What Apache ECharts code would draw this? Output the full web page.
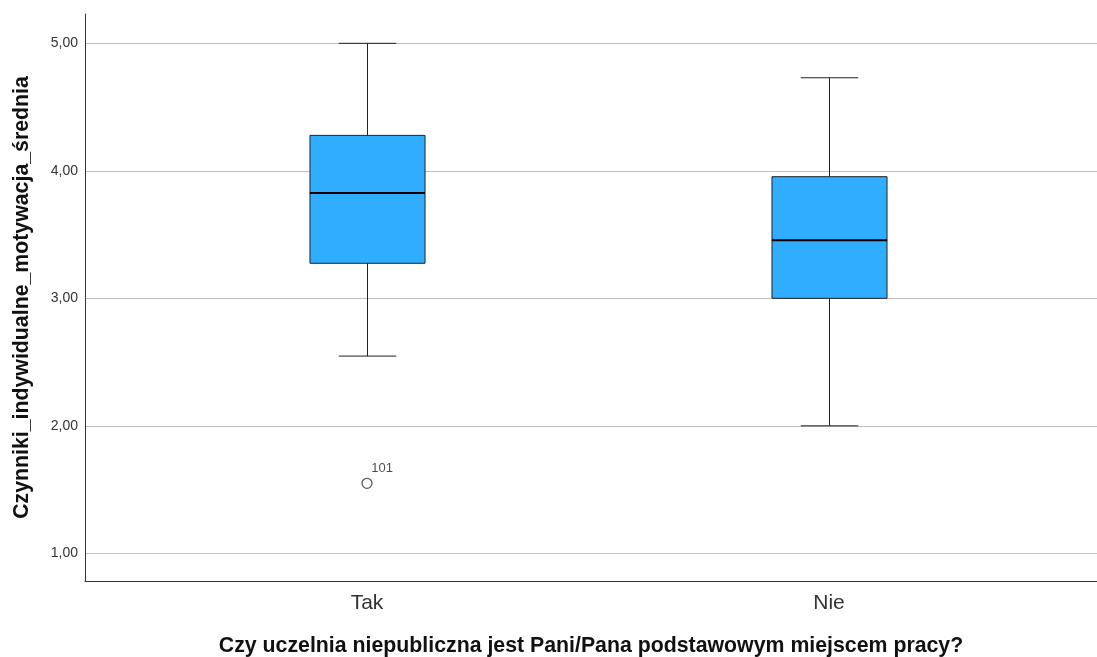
<!DOCTYPE html>
<html><head><meta charset="utf-8">
<script src="https://cdn.jsdelivr.net/npm/echarts@6/dist/echarts.min.js"></script>
<style>html,body{margin:0;padding:0;background:#fff}#c{width:1097px;height:657px}</style>
</head><body><div id="c"></div>
<script>
const categories = ['Tak', 'Nie'];
const whiskerLow = [2.547, 2.00];
const q1 = [3.275, 3.00];
const median = [3.826, 3.455];
const q3 = [4.278, 3.954];
const whiskerHigh = [5.00, 4.73];
const outliers = [[0, 1.549, '101']];
const yTicks = [1, 2, 3, 4, 5];

const boxData = categories.map((c, i) => [i, whiskerLow[i], q1[i], median[i], q3[i], whiskerHigh[i]]);
const FONT = 'Liberation Sans, Arial, sans-serif';

const chart = echarts.init(document.getElementById('c'));
chart.setOption({
  animation: false,
  grid: { left: 85, right: 0, top: 14, bottom: 76, containLabel: false, outerBoundsMode: 'none' },
  xAxis: {
    type: 'value', min: -0.6104, max: 1.5801,
    axisLine: { show: true, onZero: false, lineStyle: { color: '#333', width: 1 } },
    axisTick: { show: false },
    splitLine: { show: false },
    axisLabel: { customValues: [0, 1], formatter: v => categories[Math.round(v)] || '', color: '#333', fontSize: 21, fontFamily: FONT, margin: 12 },
    name: 'Czy uczelnia niepubliczna jest Pani/Pana podstawowym miejscem pracy?',
    nameLocation: 'middle', nameGap: 55,
    nameTextStyle: { fontSize: 21.3, fontWeight: 'bold', color: '#111', fontFamily: FONT }
  },
  yAxis: {
    type: 'value', min: 0.783, max: 5.23,
    axisLine: { show: true, onZero: false, lineStyle: { color: '#333', width: 1 } },
    axisTick: { show: false, customValues: yTicks },
    splitLine: { show: true, lineStyle: { color: '#bfbfbf', width: 1 } },
    axisLabel: { customValues: yTicks, formatter: v => v.toFixed(2).replace('.', ','), color: '#333', fontSize: 14, fontFamily: FONT, margin: 7 },
    name: 'Czynniki_indywidualne_motywacja_średnia',
    nameLocation: 'middle', nameGap: 52,
    nameTextStyle: { fontSize: 21.3, fontWeight: 'bold', color: '#111', fontFamily: FONT }
  },
  series: [
    {
      type: 'custom',
      data: boxData,
      renderItem: function (params, api) {
        const x = api.value(0);
        const p = v => api.coord([x, v]);
        const w = api.size([0.249, 0])[0];
        const hw = w / 2, cw = w / 4;
        const pMin = p(api.value(1)), pQ1 = p(api.value(2)), pMed = p(api.value(3)), pQ3 = p(api.value(4)), pMax = p(api.value(5));
        const cx = Math.round(pMed[0]) + 0.5;
        const ls = { stroke: '#222', lineWidth: 1 };
        return {
          type: 'group',
          children: [
            { type: 'line', shape: { x1: cx, y1: pMax[1], x2: cx, y2: pQ3[1] }, style: ls },
            { type: 'line', shape: { x1: cx, y1: pQ1[1], x2: cx, y2: pMin[1] }, style: ls },
            { type: 'line', shape: { x1: cx - cw, y1: pMax[1], x2: cx + cw, y2: pMax[1] }, style: ls },
            { type: 'line', shape: { x1: cx - cw, y1: pMin[1], x2: cx + cw, y2: pMin[1] }, style: ls },
            { type: 'rect', shape: { x: cx - hw, y: pQ3[1], width: w, height: pQ1[1] - pQ3[1] }, style: { fill: '#31adff', stroke: '#222', lineWidth: 1 } },
            { type: 'line', shape: { x1: cx - hw, y1: pMed[1], x2: cx + hw, y2: pMed[1] }, style: { stroke: '#000', lineWidth: 2 } }
          ]
        };
      }
    },
    {
      type: 'scatter',
      data: outliers.map(o => ({ value: [o[0], o[1]], name: o[2] })),
      symbol: 'circle', symbolSize: 10,
      itemStyle: { color: '#fff', borderColor: '#333', borderWidth: 1.3 },
      label: { show: true, formatter: p => p.name, position: [10, -16], color: '#222', fontSize: 13, fontFamily: FONT }
    }
  ]
});
</script></body></html>
